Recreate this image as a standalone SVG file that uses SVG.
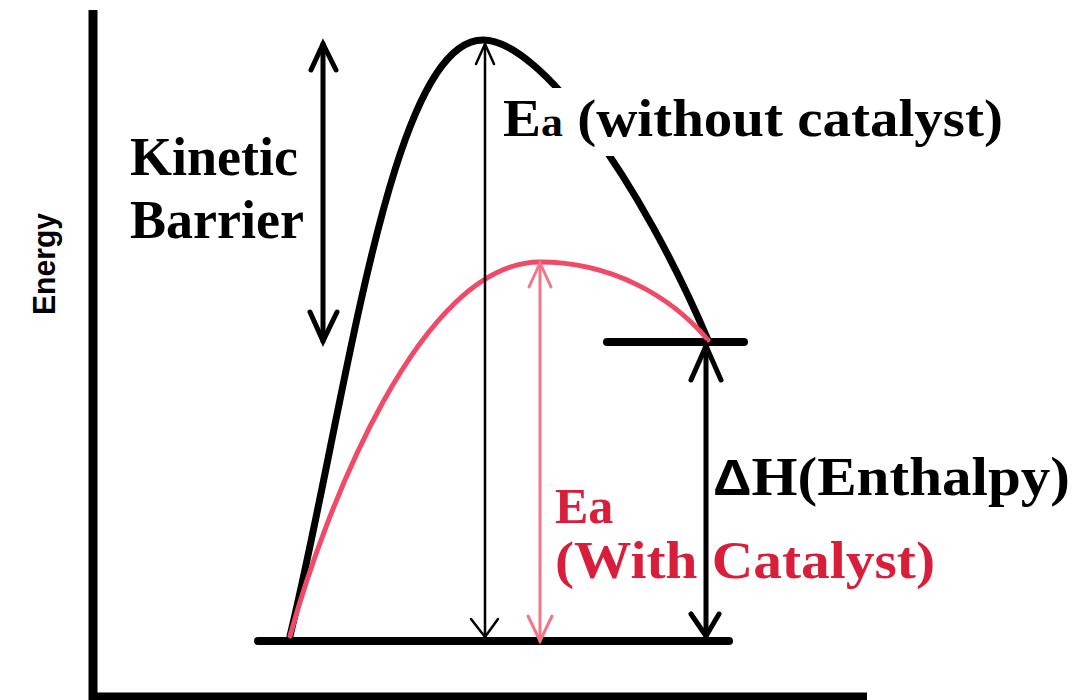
<svg xmlns="http://www.w3.org/2000/svg" width="1080" height="700" viewBox="0 0 1080 700">
<style>
.axis{stroke:#000;stroke-width:9;fill:none}
.level{stroke:#000;stroke-width:8;stroke-linecap:round;fill:none}
.blk{stroke:#000;stroke-width:7;fill:none;stroke-linecap:round}
.red{stroke:#ef4a68;stroke-width:5;fill:none;stroke-linecap:round}
.thick{stroke:#000;stroke-width:5;fill:none;stroke-linecap:round;stroke-linejoin:miter}
.thin{stroke:#000;stroke-width:2.5;fill:none;stroke-linecap:round}
.pink{stroke:#f07688;stroke-width:3;fill:none;stroke-linecap:round}
.lbl{font-family:"Liberation Serif","Times New Roman",serif;font-weight:bold;fill:#000}
.rlbl{font-family:"Liberation Serif","Times New Roman",serif;font-weight:bold;fill:#d81e3a}
</style>
<rect x="0" y="0" width="1080" height="700" fill="#fff"/>
<g id="axes">
<line class="axis" x1="93" y1="10" x2="93" y2="701"/>
<line class="axis" x1="89" y1="697" x2="867" y2="697"/>
<text transform="translate(55,264) rotate(-90)" text-anchor="middle" font-family="Liberation Sans, Arial, sans-serif" font-size="32" font-weight="bold" textLength="102" lengthAdjust="spacingAndGlyphs" fill="#000">Energy</text>
</g>
<g id="levels">
<line class="level" x1="258" y1="641" x2="729" y2="641"/>
<line class="level" x1="607" y1="342" x2="744" y2="342"/>
</g>
<g id="curve-uncatalyzed">
<path class="blk" d="M290,636 C347,400 390,40 483,40 C540,40 640,180 708,340"/>
</g>
<g id="curve-catalyzed">
<path class="red" d="M290,636 C325,510 420,262 540,262 C610,262 670,295 708,340"/>
</g>
<g id="connectors">
<line class="thick" x1="323" y1="44" x2="323" y2="341"/>
<polyline class="thick" points="311,70 323,44 336,70"/>
<polyline class="thick" points="310,312 323,341 337,312"/>
<line class="thin" x1="485" y1="44" x2="485" y2="637"/>
<polyline class="thin" points="476,64 485,44 494,64"/>
<polyline class="thin" points="471,619 485,637 498,619"/>
<line class="pink" x1="540" y1="263" x2="540" y2="641"/>
<polyline class="pink" points="529,287 540,263 551,287"/>
<polyline class="pink" points="528,616 540,641 552,616"/>
<line class="thick" x1="706" y1="346" x2="706" y2="636"/>
<polyline class="thick" points="691,380 706,346 721,380"/>
<polyline class="thick" points="691,614 706,636 719,614"/>
</g>
<g id="label-kinetic">
<text class="lbl" x="130" y="175" font-size="54">Kinetic</text>
<text class="lbl" x="130" y="238" font-size="54">Barrier</text>
</g>
<g id="label-ea-uncat">
<rect x="500" y="88" width="510" height="68" fill="#fff"/>
<text class="lbl" x="503" y="136" font-size="52" textLength="500" lengthAdjust="spacingAndGlyphs">E<tspan font-size="40">a</tspan> (without catalyst)</text>
</g>
<g id="label-dh">
<text class="lbl" x="713" y="495" font-size="55" textLength="357" lengthAdjust="spacingAndGlyphs"><tspan font-family="Liberation Sans, Arial, sans-serif" font-size="50">Δ</tspan>H(Enthalpy)</text>
</g>
<g id="label-ea-cat">
<text class="rlbl" x="555" y="523" font-size="50">Ea</text>
<text class="rlbl" x="555" y="578" font-size="53" textLength="380" lengthAdjust="spacingAndGlyphs">(With Catalyst)</text>
</g>
</svg>
